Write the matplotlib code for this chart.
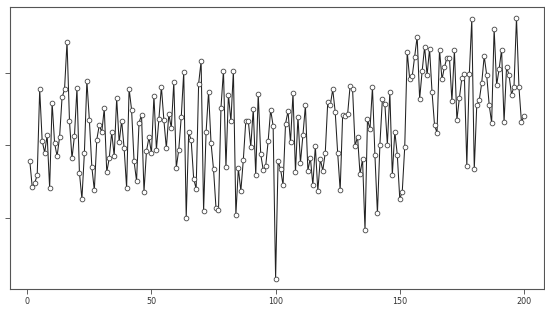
import matplotlib
matplotlib.use("Agg")
import matplotlib.pyplot as plt
import numpy as np

# Series values; index runs 1..200
values = [
    -0.21, -0.58, -0.52, -0.41, 0.77, 0.06, -0.10, 0.14, -0.59, 0.59,
    0.03, -0.15, 0.11, 0.66, 0.77, 1.43, 0.33, -0.18, 0.13, 0.79,
    -0.38, -0.74, -0.10, 0.89, 0.35, -0.30, -0.62, 0.08, 0.28, 0.18,
    0.51, -0.37, -0.18, 0.18, -0.15, 0.65, 0.04, 0.34, -0.04, -0.59,
    0.78, 0.49, -0.22, -0.49, 0.31, 0.42, -0.64, -0.08, 0.11, -0.11,
    0.68, -0.06, 0.36, 0.81, 0.35, -0.04, 0.43, 0.24, 0.87, -0.31,
    -0.06, 0.39, 1.01, -1.00, 0.18, 0.07, -0.46, -0.60, 0.85, 1.16,
    -0.91, 0.18, 0.74, 0.03, -0.33, -0.87, -0.89, 0.52, 1.03, -0.30,
    0.70, 0.33, 1.03, -0.96, -0.32, -0.63, -0.20, 0.34, 0.34, -0.02,
    0.50, -0.41, 0.71, -0.12, -0.34, -0.29, 0.06, 0.49, 0.27, -1.84,
    -0.22, -0.33, -0.55, 0.30, 0.47, 0.04, 0.72, -0.37, 0.39, -0.24,
    0.14, 0.55, -0.35, -0.17, -0.55, -0.01, -0.63, -0.19, -0.35, -0.10,
    0.60, 0.55, 0.77, 0.46, -0.11, -0.62, 0.42, 0.41, 0.43, 0.82,
    0.77, -0.01, 0.12, -0.40, -0.19, -1.17, 0.36, 0.22, 0.80, -0.14,
    -0.94, 0.01, 0.64, 0.57, 0.01, 0.73, -0.41, 0.19, -0.13, -0.74,
    -0.64, -0.02, 1.29, 0.91, 0.95, 1.22, 1.50, 0.64, 1.02, 1.36,
    0.97, 1.33, 0.73, 0.28, 0.17, 1.32, 0.91, 1.08, 1.21, 1.21,
    0.61, 1.31, 0.35, 0.65, 0.93, 0.98, -0.28, 0.98, 1.74, -0.33,
    0.55, 0.62, 0.86, 1.23, 0.97, 0.56, 0.31, 1.61, 0.83, 1.05,
    1.32, 0.32, 1.08, 0.97, 0.70, 0.81, 1.76, 0.80, 0.32, 0.40,
]
index = list(range(1, len(values) + 1))
x_ticks = [0, 50, 100, 150, 200]
x_tick_labels = ["0", "50", "100", "150", "200"]
y_ticks = [-1, 0, 1]

W, H = 545, 309
fig = plt.figure(figsize=(W / 100, H / 100), dpi=100)
left, right = 10.0, 543.7
top, bottom = 7.3, 289.1
ax = fig.add_axes([left / W, 1 - bottom / H, (right - left) / W, (bottom - top) / H])

ax.plot(index, values, color="#222222", lw=0.75, zorder=2)
ax.plot(index, values, ls="none", marker="o", ms=3.4, mfc="white",
        mec="#444444", mew=0.6, zorder=3)

n = len(values)
xr = n - 1
ax.set_xlim(1 - 0.04 * xr, n + 0.04 * xr)
ymin, ymax = min(values), max(values)
yr = ymax - ymin
ax.set_ylim(ymin - 0.04 * yr, ymax + 0.04 * yr)

ax.set_xticks(x_ticks)
ax.set_xticklabels(x_tick_labels, fontsize=5.8, color="#333333")
ax.set_yticks(y_ticks)
ax.set_yticklabels([])
ax.tick_params(axis="both", length=3.6, width=0.6, color="#444444", pad=2)

for s in ax.spines.values():
    s.set_color("#555555")
    s.set_linewidth(0.8)

fig.savefig("out.png", dpi=100)
